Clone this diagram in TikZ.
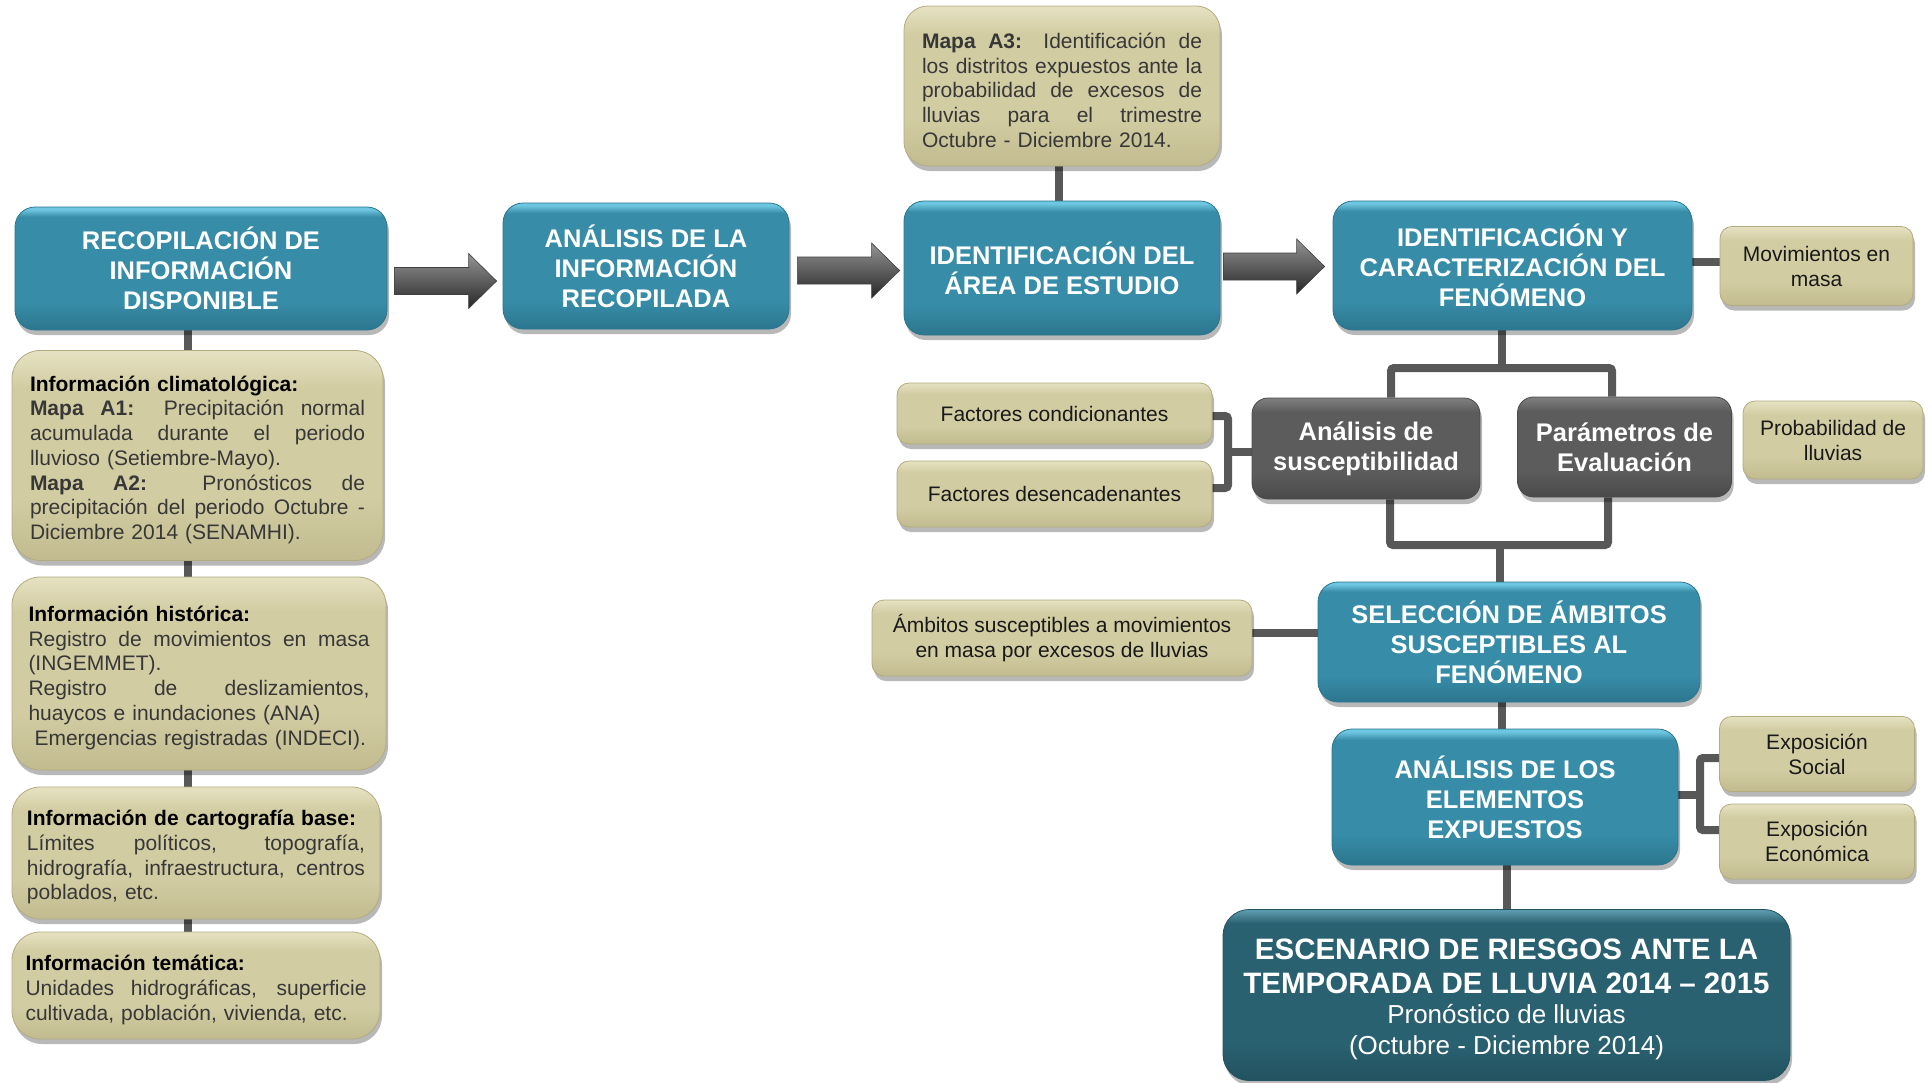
\documentclass[tikz,border=0pt]{standalone}
\usepackage{fontspec}
\setmainfont{Liberation Sans}
\usetikzlibrary{calc,shadows,backgrounds}

\definecolor{tealbox}{RGB}{55,140,167}
\definecolor{teallight}{RGB}{110,198,224}
\definecolor{tealdark}{RGB}{44,118,142}
\definecolor{tanbox}{RGB}{210,204,162}
\definecolor{tanlight}{RGB}{230,226,194}
\definecolor{tandark}{RGB}{194,187,144}
\definecolor{tanedge}{RGB}{178,171,128}
\definecolor{graybox}{RGB}{92,92,92}
\definecolor{graylight}{RGB}{128,128,128}
\definecolor{graydark}{RGB}{74,74,74}
\definecolor{escbox}{RGB}{42,97,113}
\definecolor{esclight}{RGB}{90,152,170}
\definecolor{escdark}{RGB}{34,82,96}
\definecolor{connc}{RGB}{88,88,88}
\definecolor{bodytext}{RGB}{55,55,55}

\pgfdeclareverticalshading{tealsh}{100bp}{color(0bp)=(tealdark); color(25bp)=(tealdark); color(36bp)=(tealbox); color(71bp)=(tealbox); color(74bp)=(teallight); color(100bp)=(teallight)}
\pgfdeclareverticalshading{tansh}{100bp}{color(0bp)=(tandark); color(25bp)=(tandark); color(40bp)=(tanbox); color(66bp)=(tanbox); color(75bp)=(tanlight); color(100bp)=(tanlight)}
\pgfdeclareverticalshading{graysh}{100bp}{color(0bp)=(graydark); color(25bp)=(graydark); color(38bp)=(graybox); color(68bp)=(graybox); color(75bp)=(graylight); color(100bp)=(graylight)}
\pgfdeclareverticalshading{escsh}{100bp}{color(0bp)=(escdark); color(25bp)=(escdark); color(36bp)=(escbox); color(71bp)=(escbox); color(74.5bp)=(esclight); color(100bp)=(esclight)}

\newcommand\J[1]{{\spaceskip=0pt\xspaceskip=0pt\makebox[\hsize][s]{#1}}}
\newcommand\blockarrow[3]{%
  \shadedraw[blockarr] let \p1=(#1), \p2=(#2), \p3=(#3) in
  (\x1,\y3+13.5pt) -- (\x2-28pt,\y3+13.5pt) -- (\x2-28pt,\y3+27.5pt) -- (\x2,\y3)
  -- (\x2-28pt,\y3-27.5pt) -- (\x2-28pt,\y3-13.5pt) -- (\x1,\y3-13.5pt) -- cycle;}

\tikzset{
  boxbase/.style={inner sep=0pt, align=center,
    drop shadow={shadow xshift=2pt, shadow yshift=-5pt, opacity=0.28, fill=black}},
  tealnode/.style={boxbase, rounded corners=20pt, shade, shading=tealsh,
    draw=tealdark, line width=0.8pt, text=white,
    font=\fontsize{25.5}{30}\selectfont\bfseries},
  graynode/.style={boxbase, rounded corners=16pt, shade, shading=graysh,
    draw=graydark, line width=0.8pt, text=white,
    font=\fontsize{25.5}{30}\selectfont\bfseries},
  infobox/.style={boxbase, rounded corners=28pt, shade, shading=tansh,
    draw=tanedge, line width=0.8pt, align=left, text=bodytext,
    font=\fontsize{21}{24.7}\selectfont,
    execute at begin node={\rule{0pt}{24pt}}},
  tanlabel/.style={boxbase, rounded corners=12pt, shade, shading=tansh,
    draw=tanedge, line width=0.8pt, text=black!90,
    font=\fontsize{21}{25}\selectfont},
  escnode/.style={boxbase, rounded corners=26pt, shade, shading=escsh,
    draw=escdark, line width=0.8pt, text=white,
    font=\fontsize{29.5}{33.5}\selectfont\bfseries},
  conn/.style={draw=connc, line width=8pt, rounded corners=3pt},
  blockarr/.style={top color=black!42, bottom color=black!85, draw=black!75, line width=0.6pt},
}

\begin{document}
\begin{tikzpicture}[x=1pt,y=-1pt]
\useasboundingbox (0,0) rectangle (1932,1082);
\begin{pgfonlayer}{background}
\fill[white] (0,0) rectangle (1932,1082);
\end{pgfonlayer}

% ---------- left column ----------
\node[tealnode, minimum width=372pt, minimum height=123pt] (recop) at (201,268.5)
  {RECOPILACIÓN DE\\INFORMACIÓN\\DISPONIBLE};

\node[infobox, minimum width=371pt, minimum height=210pt, text width=335pt] (clima) at (197.5,455.5) {%
\textcolor{black}{\textbf{Información climatológica:}}\\
\J{\textbf{Mapa A1:} Precipitación normal}\\
\J{acumulada durante el periodo}\\
lluvioso (Setiembre-Mayo).\\
\J{\textbf{Mapa A2:} Pronósticos de}\\
\J{precipitación del periodo Octubre -}\\
Diciembre 2014 (SENAMHI).};

\node[infobox, minimum width=374pt, minimum height=193pt, text width=341pt] (hist) at (199,673.5) {%
\textcolor{black}{\textbf{Información histórica:}}\\
\J{Registro de movimientos en masa}\\
(INGEMMET).\\
\J{Registro de deslizamientos,}\\
huaycos e inundaciones (ANA)\\
\hspace*{6pt}Emergencias registradas (INDECI).};

\node[infobox, minimum width=368pt, minimum height=132pt, text width=338pt] (carto) at (196,853) {%
\textcolor{black}{\textbf{Información de cartografía base:}}\\
\J{Límites políticos, topografía,}\\
\J{hidrografía, infraestructura, centros}\\
poblados, etc.};

\node[infobox, minimum width=368pt, minimum height=107pt, text width=341pt] (tema) at (196,985.5) {%
\textcolor{black}{\textbf{Información temática:}}\\
\J{Unidades hidrográficas, superficie}\\
cultivada, población, vivienda, etc.};

% ---------- top row ----------
\node[tealnode, minimum width=286pt, minimum height=126pt] (anali) at (646,266)
  {ANÁLISIS DE LA\\INFORMACIÓN\\RECOPILADA};

\node[tealnode, minimum width=316pt, minimum height=134pt] (ident) at (1062,268)
  {IDENTIFICACIÓN DEL\\ÁREA DE ESTUDIO};

\node[infobox, rounded corners=24pt, minimum width=316pt, minimum height=160pt, text width=280pt] (mapa3) at (1062,86) {%
\J{\textbf{Mapa A3:} Identificación de}\\
\J{los distritos expuestos ante la}\\
\J{probabilidad de excesos de}\\
\J{lluvias para el trimestre}\\
Octubre - Diciembre 2014.};

\node[tealnode, minimum width=359pt, minimum height=129pt] (identY) at (1512.5,265.5)
  {IDENTIFICACIÓN Y\\CARACTERIZACIÓN DEL\\FENÓMENO};

\node[tanlabel, minimum width=193pt, minimum height=79pt] (movim) at (1816.5,266)
  {Movimientos en\\masa};

% ---------- middle ----------
\node[graynode, minimum width=228pt, minimum height=101pt] (susc) at (1366,448.5)
  {Análisis de\\susceptibilidad};
\node[graynode, minimum width=214pt, minimum height=100pt] (param) at (1624.5,447)
  {Parámetros de\\Evaluación};
\node[tanlabel, minimum width=180pt, minimum height=78pt] (prob) at (1833,440)
  {Probabilidad de\\lluvias};

\node[tanlabel, minimum width=315pt, minimum height=61pt] (fcond) at (1054.5,413.5)
  {Factores condicionantes};
\node[tanlabel, minimum width=315pt, minimum height=66pt] (fdes) at (1054.5,494)
  {Factores desencadenantes};

\node[tealnode, minimum width=382pt, minimum height=120pt] (selec) at (1509,642)
  {SELECCIÓN DE ÁMBITOS\\SUSCEPTIBLES AL\\FENÓMENO};
\node[tanlabel, minimum width=380pt, minimum height=76pt] (ambit) at (1062,638)
  {Ámbitos susceptibles a movimientos\\en masa por excesos de lluvias};

\node[tealnode, minimum width=346pt, minimum height=136pt] (elem) at (1505,797)
  {ANÁLISIS DE LOS\\ELEMENTOS\\EXPUESTOS};
\node[tanlabel, minimum width=195pt, minimum height=75pt] (expS) at (1817,754)
  {Exposición\\Social};
\node[tanlabel, minimum width=195pt, minimum height=75pt] (expE) at (1817,841.5)
  {Exposición\\Económica};

\node[escnode, minimum width=567pt, minimum height=171pt, text width=545pt] (escen) at (1506.5,995) {%
\spaceskip=\fontdimen2\font\xspaceskip=\fontdimen2\font
\rule{0pt}{29pt}ESCENARIO DE RIESGOS ANTE LA\\TEMPORADA DE LLUVIA 2014 – 2015\par
\fontsize{26}{30.5}\selectfont\mdseries
\spaceskip=\fontdimen2\font\xspaceskip=\fontdimen2\font
Pronóstico de lluvias\\(Octubre - Diciembre 2014)\par};

% ---------- block arrows ----------
\coordinate (a1) at (0,281);
\coordinate (a2) at (0,270.5);
\coordinate (a3) at (0,266.5);
\blockarrow{$(recop.east)+(7,0)$}{$(anali.west)+(-6,0)$}{a1}
\blockarrow{$(anali.east)+(8,0)$}{$(ident.west)+(-4,0)$}{a2}
\blockarrow{$(ident.east)+(3,0)$}{$(identY.west)+(-8,0)$}{a3}

% ---------- connectors ----------
\coordinate (xL) at (188,0);
\coordinate (xA) at (1059,0);
\coordinate (yM) at (0,262);
\coordinate (t1) at (1502,368);
\coordinate (t1l) at (1391,368);
\coordinate (t1r) at (1612,368);
\coordinate (t2) at (1500,545);
\coordinate (t2l) at (1390,545);
\coordinate (t2r) at (1608,545);
\coordinate (bfc) at (1228,416);
\coordinate (bfd) at (1228,488);
\coordinate (bm) at (1228,452);
\coordinate (ya) at (0,633);
\coordinate (xs) at (1502,0);
\coordinate (xe) at (1507,0);
\coordinate (be1) at (1700,758);
\coordinate (be2) at (1700,830);
\coordinate (bem) at (1700,795);

\begin{pgfonlayer}{background}
\draw[conn] (recop.south -| xL) -- (clima.north -| xL);
\draw[conn] (clima.south -| xL) -- (hist.north -| xL);
\draw[conn] (hist.south -| xL) -- (carto.north -| xL);
\draw[conn] (carto.south -| xL) -- (tema.north -| xL);
\draw[conn] (mapa3.south -| xA) -- (ident.north -| xA);
\draw[conn] (identY.east |- yM) -- (movim.west |- yM);
\draw[conn] (identY.south -| t1) -- (t1);
\draw[conn] (susc.north -| t1l) -- (t1l) -- (t1r) -- (param.north -| t1r);
\draw[conn] (susc.south -| t2l) -- (t2l) -- (t2r) -- (param.south -| t2r);
\draw[conn] (t2) -- (selec.north -| t2);
\draw[conn] (fcond.east |- bfc) -- (bfc) -- (bfd) -- (fdes.east |- bfd);
\draw[conn] (bm) -- (susc.west |- bm);
\draw[conn] (ambit.east |- ya) -- (selec.west |- ya);
\draw[conn] (selec.south -| xs) -- (elem.north -| xs);
\draw[conn] (elem.south -| xe) -- (escen.north -| xe);
\draw[conn] (expS.west |- be1) -- (be1) -- (be2) -- (expE.west |- be2);
\draw[conn] (elem.east |- bem) -- (bem);
\end{pgfonlayer}
\end{tikzpicture}
\end{document}
